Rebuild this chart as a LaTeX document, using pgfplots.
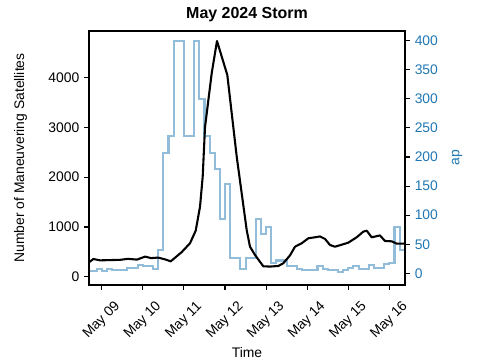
\documentclass[border=0pt]{standalone}
\usepackage{fontspec}
\setmainfont{Liberation Sans}
\usepackage{pgfplots}
\pgfplotsset{compat=1.18}
\definecolor{apblue}{RGB}{146,189,218}
\definecolor{tabblue}{RGB}{31,119,180}
\begin{document}
\begin{tikzpicture}
\useasboundingbox (-64.1pt,-54pt) rectangle (285.1pt,205.2pt);
\pgfplotsset{
 every axis/.append style={
  scale only axis, width=227.5pt, height=182.9pt,
  at={(0,0)}, anchor=south west,
  xmin=-0.309, xmax=7.38,
  tick align=outside,
  major tick length=3.5pt,
  every tick/.style={line width=0.8pt, black},
  axis line style={line width=0.8pt},
  /pgf/number format/assume math mode=true,
  /pgf/number format/1000 sep={},
  tick label style={font=\fontsize{10}{12}\selectfont},
  label style={font=\fontsize{10}{12}\selectfont},
 }
}
\begin{axis}[
  axis y line*=right, axis x line=none,
  ymin=-20.1, ymax=416.7,
  ytick={0,50,...,400},
  yticklabel style={text=tabblue},
  ylabel={ap},
  ylabel style={text=tabblue, at={(1.165,0.5)}, anchor=center},
]
\addplot[const plot mark left, apblue, line width=1.5pt, line join=miter] coordinates {
(-0.375,4) (-0.25,4) (-0.125,7) (0,4) (0.125,7) (0.25,5) (0.375,5) (0.5,6)
(0.625,9) (0.75,9) (0.875,15) (1.0,12) (1.125,12) (1.25,7) (1.375,40) (1.5,207)
(1.625,236) (1.75,400) (1.875,400) (2.0,236) (2.125,236) (2.25,400) (2.375,300) (2.5,236)
(2.625,207) (2.75,179) (2.875,94) (3.0,154) (3.125,27) (3.25,27) (3.375,7) (3.5,27)
(3.625,27) (3.75,94) (3.875,67) (4.0,80) (4.125,18) (4.25,22) (4.375,22) (4.5,12)
(4.625,12) (4.75,7) (4.875,6) (5.0,5) (5.125,5) (5.25,12) (5.375,7) (5.5,5)
(5.625,5) (5.75,3) (5.875,6) (6.0,9) (6.125,12) (6.25,7) (6.375,7) (6.5,15)
(6.625,9) (6.75,9) (6.875,16) (7.0,18) (7.125,80) (7.25,40) (7.375,40)
};
\end{axis}
\begin{axis}[
  ymin=-165, ymax=4936,
  ytick={0,1000,2000,3000,4000},
  xtick={0,1,2,3,4,5,6,7},
  xticklabels={May 09,May 10,May 11,May 12,May 13,May 14,May 15,May 16},
  xtick pos=lower, ytick pos=left,
  xticklabel style={yshift=-22pt, rotate=45, anchor=center},
  xlabel={Time},
  xlabel style={at={(0.5,-0.265)}, anchor=center},
  ylabel={Number of Maneuvering Satellites},
  ylabel style={at={(-0.217,0.5)}, anchor=center},
  title={May 2024 Storm},
  title style={font=\fontsize{11.5}{13}\selectfont\bfseries, at={(0.5,1.033)}, anchor=center},
]
\addplot[black, line width=1.5pt, line join=round] coordinates {
(-0.302,295) (-0.204,357) (-0.041,330) (0.202,335) (0.445,340) (0.640,360)
(0.859,345) (1.054,405) (1.200,375) (1.370,385) (1.540,350) (1.679,310)
(1.946,495) (2.148,673) (2.287,926) (2.392,1408) (2.457,2010) (2.513,3000)
(2.676,4086) (2.805,4735) (3.056,4052) (3.285,2412) (3.406,1677) (3.528,937)
(3.608,604) (3.730,438) (3.932,210) (4.095,205) (4.297,217) (4.418,271)
(4.582,430) (4.703,604) (4.866,673) (5.027,773) (5.190,793) (5.311,810)
(5.433,760) (5.555,638) (5.676,604) (5.822,640) (6.0,685) (6.204,793)
(6.365,906) (6.448,926) (6.569,793) (6.771,830) (6.893,719) (7.056,712)
(7.178,665) (7.380,665)
};
\end{axis}
\end{tikzpicture}
\end{document}
